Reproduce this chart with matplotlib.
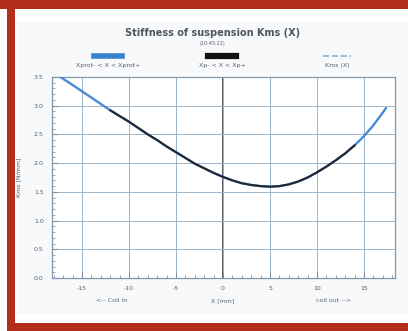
import numpy as np
import matplotlib
matplotlib.use('Agg')
import matplotlib.pyplot as plt
from matplotlib.patches import Rectangle
from matplotlib.lines import Line2D

# displacement [mm] and stiffness Kms [N/mm]
x_mm = [-17.5, -16, -15, -14, -13, -12, -11, -10, -9, -8, -7, -6, -5, -4, -3, -2, -1,
        0, 1, 2, 3, 4, 5, 6, 7, 8, 9, 10, 11, 12, 13, 14, 15, 16, 17, 17.4]
kms = [3.52, 3.36, 3.25, 3.14, 3.03, 2.92, 2.82, 2.72, 2.61, 2.50, 2.40, 2.29, 2.19,
       2.09, 1.99, 1.91, 1.83, 1.76, 1.70, 1.65, 1.62, 1.60, 1.59, 1.60, 1.63, 1.68,
       1.75, 1.84, 1.94, 2.05, 2.17, 2.31, 2.47, 2.66, 2.88, 2.97]
xp_min, xp_max = -12, 14

xticks = [-15, -10, -5, 0, 5, 10, 15]
yticks = [0.0, 0.5, 1.0, 1.5, 2.0, 2.5, 3.0, 3.5]

W, H = 408, 331
fig = plt.figure(figsize=(W / 100, H / 100), dpi=100)
fig.patch.set_facecolor('white')

red = '#b22d1a'
def px_rect(x0, y0, x1, y1, color, z=0):
    fig.patches.append(Rectangle((x0 / W, 1 - y1 / H), (x1 - x0) / W, (y1 - y0) / H,
                                 transform=fig.transFigure, facecolor=color,
                                 edgecolor='none', zorder=z))

px_rect(17, 22, 408, 314, '#f8f9fb', -1)
px_rect(0, 0, 408, 9, red, 5)
px_rect(7, 9, 15, 331, red, 5)
px_rect(7, 323, 408, 331, red, 5)

ax = fig.add_axes([52 / W, 1 - 278 / H, 343 / W, 201 / H])
ax.set_zorder(1)
ax.set_facecolor('white')

xa = np.array(x_mm)
ka = np.array(kms)
inner = (xa >= xp_min) & (xa <= xp_max)

ax.plot(xa, ka, color='#8fb0cc', lw=0.6, ls='--', zorder=2)
ax.plot(xa, ka, color='#4a8ad8', lw=1.7, solid_capstyle='butt', zorder=3)
ax.plot(xa[inner], ka[inner], color='#22282e', lw=1.5, zorder=4)

ax.set_xlim(-18.2, 18.3)
ax.set_ylim(0, 3.5)
ax.set_xticks(xticks)
ax.set_xticklabels([str(t) for t in xticks])
ax.set_yticks(yticks)
ax.set_yticklabels(['%.1f' % t for t in yticks])
ax.set_xticks(np.arange(-18, 19, 1), minor=True)
ax.set_yticks(np.arange(0, 3.51, 0.1), minor=True)
ax.tick_params(which='both', direction='in', colors='#7f94a8', labelcolor='#55606c',
               labelsize=4.5, pad=6)
ax.tick_params(which='major', length=4)
ax.tick_params(which='minor', length=2)
ax.grid(True, which='major', color='#9db3c6', lw=0.7, zorder=1)
ax.axvline(0, color='#34414e', lw=1.2, zorder=1.5)
for s in ax.spines.values():
    s.set_color('#7f98ad')
    s.set_linewidth(0.9)

ax.set_ylabel('Kms [N/mm]', fontsize=4.5, color='#55606c', labelpad=9)
fig.text(223 / W, 1 - 301 / H, 'X [mm]', ha='center', va='center', fontsize=4.5, color='#55606c')
fig.text(112 / W, 1 - 301 / H, '<-- Coil in', ha='center', va='center', fontsize=4.5, color='#55606c')
fig.text(334 / W, 1 - 301 / H, 'coil out -->', ha='center', va='center', fontsize=4.5, color='#55606c')

fig.text(213 / W, 1 - 33 / H, 'Stiffness of suspension Kms (X)', ha='center', va='center',
         fontsize=7, fontweight='bold', color='#50565d')
fig.text(213 / W, 1 - 43 / H, '(10:45:22)', ha='center', va='center', fontsize=3.5, color='#5a6068')

# legend: handle above label
leg = [('Xprot- < X < Xprot+', 108, dict(color='#3a80d2', lw=4)),
       ('Xp- < X < Xp+', 222, dict(color='#111111', lw=4.5)),
       ('Kms (X)', 337, dict(color='#8fb0cc', lw=1.2, ls='--'))]
for lab, cx, st in leg:
    fig.add_artist(Line2D([(cx - 14) / W, (cx + 14) / W], [1 - 56 / H, 1 - 56 / H],
                          transform=fig.transFigure, **st))
    fig.text(cx / W, 1 - 65 / H, lab, ha='center', va='center', fontsize=4.5, color='#55606c')

fig.savefig('out.png', dpi=100)
